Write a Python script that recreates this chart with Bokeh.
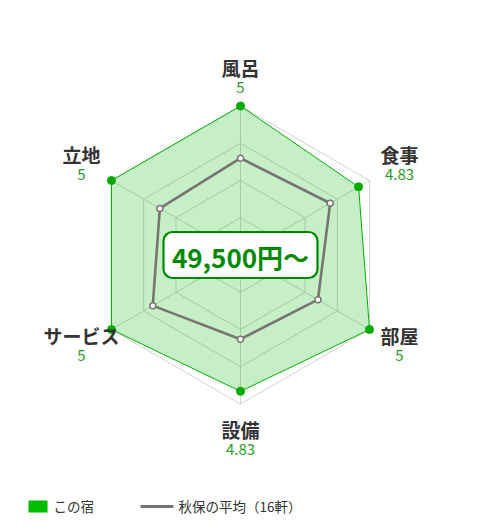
import math
from bokeh.plotting import figure
from bokeh.models import Range1d, BoxAnnotation
from bokeh.core.properties import value
from bokeh.embed import file_html
from bokeh.resources import INLINE

# ---- data ----
categories = ["風呂", "食事", "部屋", "設備", "サービス", "立地"]
hotel_scores = [5, 4.83, 5, 4.83, 5, 5]
area_avg = [4.30, 4.39, 4.20, 4.13, 4.36, 4.25]
scale_min, scale_max = 3.0, 5.0
grid_levels = [3.5, 4.0, 4.5, 5.0]
price_label = "49,500円～"
legend_hotel = "この宿"
legend_avg = "秋保の平均（16軒）"

# ---- layout constants (page pixel coords) ----
CX, CY, R = 240.0, 254.5, 149.0
FONT = "Noto Sans CJK JP"

def ang(i):
    return math.radians(90 - 60 * i)

def pt(v, i):
    rr = R * (v - scale_min) / (scale_max - scale_min)
    return CX + rr * math.cos(ang(i)), CY - rr * math.sin(ang(i))

p = figure(width=464, height=514, output_backend="svg", toolbar_location=None,
           x_range=Range1d(0, 464), y_range=Range1d(514, 0), min_border=0)
p.axis.visible = False
p.grid.visible = False
p.outline_line_color = None
p.background_fill_color = "white"

n = len(categories)
for lv in grid_levels:
    xs = [pt(lv, i)[0] for i in range(n)] + [pt(lv, 0)[0]]
    ys = [pt(lv, i)[1] for i in range(n)] + [pt(lv, 0)[1]]
    p.line(xs, ys, line_color="#d2d2d2", line_width=1)
for i in range(n):
    x1, y1 = pt(scale_max, i)
    p.line([CX, x1], [CY, y1], line_color="#d2d2d2", line_width=1)

hx = [pt(v, i)[0] for i, v in enumerate(hotel_scores)]
hy = [pt(v, i)[1] for i, v in enumerate(hotel_scores)]
p.patch(hx, hy, fill_color="#00b400", fill_alpha=0.22, line_color="#00b000", line_width=1)
p.scatter(hx, hy, size=8, fill_color="#00aa00", line_color="#00aa00")

ax = [pt(v, i)[0] for i, v in enumerate(area_avg)]
ay = [pt(v, i)[1] for i, v in enumerate(area_avg)]
p.line(ax + [ax[0]], ay + [ay[0]], line_color="#777571", line_width=2.6)
p.scatter(ax, ay, size=6, fill_color="white", line_color="#777571", line_width=1.5)

lab_x, lab_y, val_y = [], [], []
for i in range(n):
    ox, oy = pt(scale_max, i)
    dx, dy = ox - CX, oy - CY
    if abs(dx) < 1:
        lx = CX
        ly = oy - 39 if dy < 0 else oy + 25
    else:
        lx = CX + (1 if dx > 0 else -1) * 159
        ly = oy + (-26 if dy < 0 else 6)
    lab_x.append(lx)
    lab_y.append(ly)
    val_y.append(ly + 20)
val_text = [("%g" % v) for v in hotel_scores]
p.text(lab_x, lab_y, text=categories, text_font=value(FONT), text_font_size="19px",
       text_font_style="bold", text_color="#333333", text_align="center", text_baseline="middle")
p.text(lab_x, val_y, text=val_text, text_font=value(FONT), text_font_size="15px",
       text_color="#1f9a1f", text_align="center", text_baseline="middle")

box = BoxAnnotation(left=CX - 77, right=CX + 77, top=CY - 23, bottom=CY + 23,
                    fill_color="white", fill_alpha=1.0, line_color="#008a00", line_alpha=1.0,
                    line_width=2.2, border_radius=9)
p.add_layout(box)
pr = p.text([CX], [CY + 1], text=[price_label], text_font=value(FONT), text_font_size="26px",
            text_font_style="bold", text_color="#008a00", text_align="center", text_baseline="middle")
pr.level = "overlay"

LY = 505
p.rect([37.5], [LY + 1], width=19, height=12, fill_color="#00bb00", line_color=None)
p.text([53], [LY], text=[legend_hotel], text_font=value(FONT), text_font_size="13.5px",
       text_color="#333333", text_align="left", text_baseline="middle")
p.line([140, 173], [LY + 1, LY + 1], line_color="#777571", line_width=3)
p.text([178], [LY], text=[legend_avg], text_font=value(FONT), text_font_size="13.5px",
       text_color="#333333", text_align="left", text_baseline="middle")

open("out.html", "w").write(file_html(p, INLINE))
